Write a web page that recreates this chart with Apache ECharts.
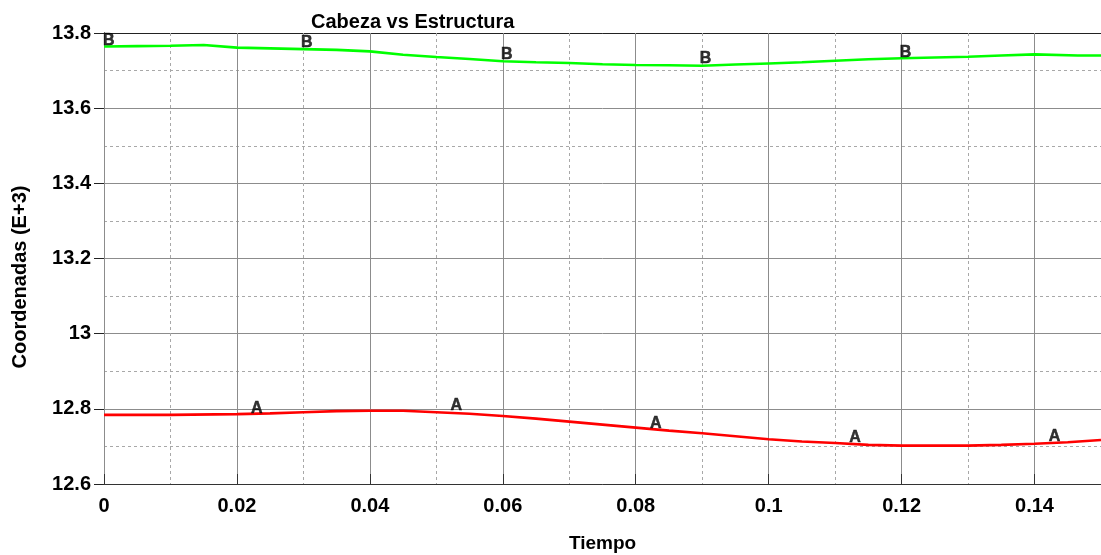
<!DOCTYPE html>
<html>
<head>
<meta charset="utf-8">
<script src="https://cdn.jsdelivr.net/npm/echarts@6/dist/echarts.min.js"></script>
<style>
html,body{margin:0;padding:0;background:#fff;}
#chart{width:1101px;height:555px;}
</style>
</head>
<body>
<div id="chart"></div>
<script>
// ---- Data ----
const titleText = 'Cabeza vs Estructura';
const xName = 'Tiempo';
const yName = 'Coordenadas (E+3)';

const timeB = [0, 0.005, 0.01, 0.015, 0.02, 0.025, 0.03, 0.035, 0.04, 0.045, 0.05, 0.055, 0.06, 0.065, 0.07, 0.075, 0.08, 0.085, 0.09, 0.095, 0.1, 0.105, 0.11, 0.115, 0.12, 0.125, 0.13, 0.135, 0.14, 0.1465, 0.15];
const valuesB = [13.764, 13.765, 13.766, 13.768, 13.761, 13.759, 13.757, 13.755, 13.751, 13.742, 13.736, 13.731, 13.725, 13.722, 13.720, 13.717, 13.715, 13.714, 13.713, 13.716, 13.719, 13.722, 13.726, 13.730, 13.733, 13.735, 13.737, 13.740, 13.743, 13.740, 13.740];

const timeA = [0, 0.01, 0.02, 0.025, 0.03, 0.035, 0.04, 0.045, 0.05, 0.055, 0.06, 0.065, 0.07, 0.075, 0.08, 0.085, 0.09, 0.095, 0.1, 0.105, 0.11, 0.115, 0.12, 0.125, 0.13, 0.135, 0.14, 0.145, 0.15];
const valuesA = [12.784, 12.784, 12.786, 12.788, 12.791, 12.794, 12.795, 12.795, 12.791, 12.787, 12.781, 12.774, 12.766, 12.758, 12.750, 12.742, 12.735, 12.727, 12.719, 12.713, 12.709, 12.704, 12.702, 12.702, 12.702, 12.704, 12.707, 12.711, 12.717];

// letter markers placed on the curves
const markTimeA = [0.023, 0.053, 0.083, 0.113, 0.143];
const markValA = [12.786, 12.7915, 12.746, 12.7064, 12.709];
const markTimeB = [0.0007, 0.0305, 0.0606, 0.0905, 0.1206];
const markValB = [13.7635, 13.7574, 13.7255, 13.7148, 13.7321];

const xTicks = [0, 0.02, 0.04, 0.06, 0.08, 0.1, 0.12, 0.14];
const yTicks = [12.6, 12.8, 13, 13.2, 13.4, 13.6, 13.8];

// ---- Build ----
const zip = (xs, ys) => xs.map((x, i) => [x, ys[i]]);
const fmtX = v => {
  const r = Math.round(v * 1000) / 1000;
  return xTicks.some(t => Math.abs(t - r) < 1e-9) ? String(r) : '';
};
const fmtY = v => {
  const r = Math.round(v * 10) / 10;
  return yTicks.some(t => Math.abs(t - r) < 1e-9) ? String(r) : '';
};
const font = 'Liberation Sans, Arial, sans-serif';

const chart = echarts.init(document.getElementById('chart'), null, {renderer: 'canvas'});
const grid = {left: 104, right: 0, top: 33, bottom: 71, containLabel: false, outerBoundsMode: 'none'};

const letterLabel = (txt) => ({
  show: true, formatter: txt, position: 'top', distance: -2,
  fontFamily: font, fontSize: 16, fontWeight: 'bold', color: '#000',
  textBorderColor: '#000', textBorderWidth: 0.5
});

chart.setOption({
  backgroundColor: '#ffffff',
  animation: false,
  title: {
    text: titleText,
    left: 306,
    top: 7,
    textStyle: {fontFamily: font, fontSize: 20, fontWeight: 'bold', color: '#000'}
  },
  grid: grid,
  xAxis: [
    { // main bottom axis with solid major grid
      type: 'value', min: 0, max: 0.15, interval: 0.02, position: 'bottom',
      name: xName, nameLocation: 'middle', nameGap: 50,
      nameTextStyle: {fontFamily: font, fontSize: 19, fontWeight: 'bold', color: '#000'},
      axisLine: {show: true, lineStyle: {color: '#333', width: 1}},
      axisTick: {show: true, inside: true, length: 10, lineStyle: {color: '#333'}},
      axisLabel: {fontFamily: font, fontSize: 20, fontWeight: 'bold', color: '#000', margin: 12,
        formatter: fmtX, showMaxLabel: false},
      splitLine: {show: true, lineStyle: {color: '#8c8c8c', width: 1}},
      z: 3
    },
    { // top border with inside ticks
      type: 'value', min: 0, max: 0.15, interval: 0.02, position: 'top',
      axisLine: {show: true, lineStyle: {color: '#222', width: 1}},
      axisTick: {show: true, inside: true, length: 8, lineStyle: {color: '#333'}},
      axisLabel: {show: false},
      splitLine: {show: false}
    },
    { // dashed minor grid every 0.01
      type: 'value', min: 0, max: 0.15, interval: 0.01, position: 'bottom', offset: 0,
      axisLine: {show: false}, axisTick: {show: false}, axisLabel: {show: false},
      splitLine: {show: true, lineStyle: {color: '#a8a8a8', width: 1, type: [3, 3]}},
      z: 1
    }
  ],
  yAxis: [
    {
      type: 'value', min: 12.6, max: 13.8, interval: 0.2, position: 'left',
      axisLine: {show: true, lineStyle: {color: '#444', width: 1}},
      axisTick: {show: true, inside: false, length: 10, lineStyle: {color: '#222'}},
      axisLabel: {fontFamily: font, fontSize: 20, fontWeight: 'bold', color: '#000', margin: 13, formatter: fmtY},
      splitLine: {show: true, lineStyle: {color: '#8c8c8c', width: 1}},
      minorTick: {show: false, splitNumber: 2},
      minorSplitLine: {show: true, lineStyle: {color: '#a8a8a8', width: 1, type: [3, 3]}}
    },
    {
      type: 'value', min: 12.6, max: 13.8, interval: 0.2, position: 'right',
      axisLine: {show: true, lineStyle: {color: '#222', width: 1}},
      axisTick: {show: true, inside: true, length: 8, lineStyle: {color: '#222'}},
      axisLabel: {show: false},
      splitLine: {show: false}
    }
  ],
  graphic: [{
    type: 'text',
    x: 20, y: 277, rotation: Math.PI / 2,
    style: {text: yName, fontFamily: font, fontSize: 20, fontWeight: 'bold', fill: '#000',
      align: 'center', verticalAlign: 'middle'}
  }],
  series: [
    {
      name: 'B', type: 'line', data: zip(timeB, valuesB), showSymbol: false, symbol: 'none',
      lineStyle: {color: '#00ff00', width: 2.6}, z: 5, silent: true
    },
    {
      name: 'A', type: 'line', data: zip(timeA, valuesA), showSymbol: false, symbol: 'none',
      lineStyle: {color: '#ff0000', width: 2.6}, z: 5, silent: true
    },
    {
      name: 'markB', type: 'scatter', data: zip(markTimeB, markValB), symbolSize: 0,
      label: letterLabel('B'), z: 6, silent: true
    },
    {
      name: 'markA', type: 'scatter', data: zip(markTimeA, markValA), symbolSize: 0,
      label: letterLabel('A'), z: 6, silent: true
    }
  ]
});
</script>
</body>
</html>
